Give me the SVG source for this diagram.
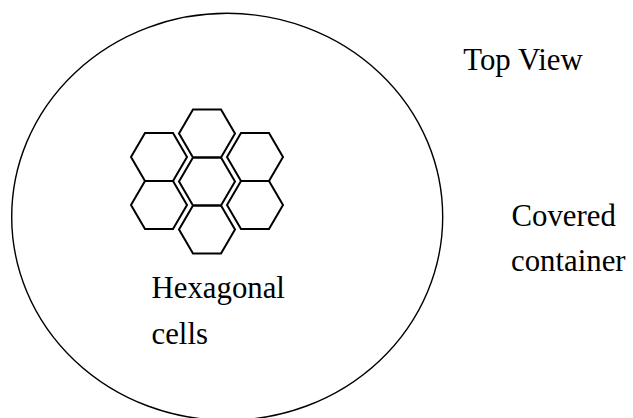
<svg xmlns="http://www.w3.org/2000/svg" xmlns:xlink="http://www.w3.org/1999/xlink" width="633" height="418" viewBox="0 0 633 418">
<style>
.hex{fill:none;stroke:#000;stroke-width:2;stroke-linejoin:miter}
.outline{fill:none;stroke:#000;stroke-width:1.4}
text{font-family:'Liberation Serif','Times New Roman','DejaVu Serif',serif;font-size:30.8px;fill:#000}
</style>
<defs>
<polygon id="hexshape" class="hex" points="-28,0 -14,-24 14,-24 28,0 14,24 -14,24"/>
</defs>
<rect width="633" height="418" fill="#fff"/>
<g id="container">
<ellipse class="outline" cx="227.2" cy="216.8" rx="215.5" ry="203.5"/>
</g>
<g id="cells">
<g id="cell-top"><use xlink:href="#hexshape" x="207" y="133.5"/></g>
<g id="cell-center"><use xlink:href="#hexshape" x="207" y="181.5"/></g>
<g id="cell-bottom"><use xlink:href="#hexshape" x="207" y="229.5"/></g>
<g id="cell-upper-left"><use xlink:href="#hexshape" x="159" y="157"/></g>
<g id="cell-lower-left"><use xlink:href="#hexshape" x="159" y="205"/></g>
<g id="cell-upper-right"><use xlink:href="#hexshape" x="255" y="157"/></g>
<g id="cell-lower-right"><use xlink:href="#hexshape" x="255" y="205"/></g>
</g>
<g id="connectors"></g>
<g id="label-top-view"><text font-family="Liberation Serif, serif" x="463.3" y="69.5">Top View</text></g>
<g id="label-covered-container">
<text font-family="Liberation Serif, serif" x="511.5" y="225.5">Covered</text>
<text font-family="Liberation Serif, serif" x="511" y="270.5">container</text>
</g>
<g id="label-hexagonal-cells">
<text font-family="Liberation Serif, serif" x="151.5" y="298">Hexagonal</text>
<text font-family="Liberation Serif, serif" x="151.5" y="344">cells</text>
</g>
</svg>
